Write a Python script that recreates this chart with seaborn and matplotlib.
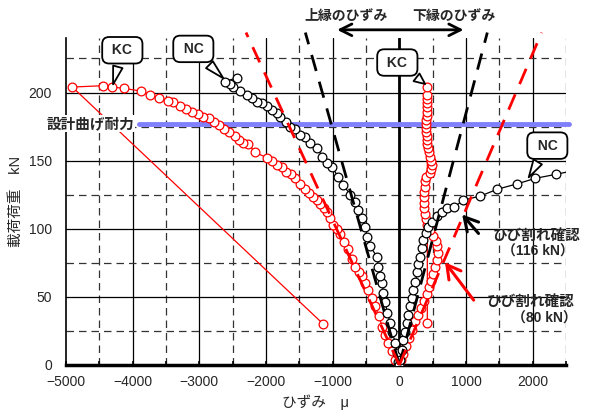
import matplotlib
matplotlib.use('Agg')
import matplotlib.pyplot as plt
import seaborn as sns

# strain (micro) and load (kN)
kc_comp_strain = [0, -60, -110, -165, -210, -255, -310, -360, -410, -465,
                  -510, -555, -610, -660, -710, -765, -825, -885, -940, -990,
                  -1035, -1080, -1130, -1185, -1240, -1290, -1350, -1410, -1485, -1560,
                  -1630, -1695, -1760, -1830, -1905, -1980, -2160, -2265, -2340, -2400,
                  -2460, -2550, -2625, -2700, -2775, -2850, -2940, -3015, -3105, -3195,
                  -3285, -3390, -3465, -3600, -3735, -3870, -4125, -4305, -4440, -4905,
                  -1140]
kc_comp_load = [0, 4, 10, 16, 22, 28, 36, 43, 49, 55,
                60, 65, 68, 72, 78, 85, 90, 96, 100, 103,
                108, 112, 115, 118, 121, 123, 126, 129, 133, 137,
                140, 142, 145, 147, 150, 152, 156, 162, 163, 165,
                168, 171, 173, 176, 178, 181, 182, 184, 186, 188,
                190, 193, 194, 196, 198, 201, 203, 204, 205, 204,
                30]

kc_tens_strain = [0, 30, 60, 105, 150, 195, 240, 285, 330, 375,
                  420, 450, 480, 510, 540, 570, 585, 570, 555, 510,
                  465, 420, 405, 390, 375, 375, 375, 375, 390, 390,
                  405, 465, 480, 495, 480, 465, 450, 435, 420, 420,
                  420, 405, 405, 405, 405, 420, 420, 420, 420, 420,
                  420, 420, 420]
kc_tens_load = [0, 4, 8, 14, 20, 26, 32, 37, 42, 47,
                52, 57, 62, 67, 72, 77, 82, 87, 91, 95,
                99, 103, 107, 111, 115, 119, 123, 127, 131, 135,
                138, 141, 144, 147, 150, 153, 156, 159, 162, 165,
                168, 171, 174, 177, 180, 183, 186, 189, 192, 195,
                198, 204, 31]

nc_comp_strain = [0, -15, -30, -60, -105, -135, -180, -210, -240, -255,
                  -285, -315, -330, -435, -480, -510, -555, -615, -660, -735,
                  -840, -915, -1005, -1080, -1155, -1230, -1335, -1410, -1485, -1560,
                  -1635, -1695, -1785, -1830, -1905, -1980, -2055, -2130, -2205, -2280,
                  -2385, -2490, -2535, -2610, -2430]
nc_comp_load = [0, 2, 9, 16, 24, 31, 38, 46, 53, 60,
                65, 72, 79, 87, 94, 101, 108, 114, 120, 125,
                132, 138, 145, 148, 153, 159, 163, 167, 169, 173,
                175, 178, 182, 185, 187, 190, 192, 193, 196, 198,
                201, 204, 206, 208, 211]

nc_tens_strain = [0, 15, 45, 60, 90, 120, 135, 165, 195, 210,
                  240, 270, 285, 315, 345, 360, 405, 435, 495, 570,
                  645, 720, 825, 960, 1215, 1470, 1770, 2040, 2355, 2550]
nc_tens_load = [0, 4, 11, 18, 24, 31, 37, 43, 49, 55,
                61, 68, 74, 79, 86, 92, 97, 101, 105, 109,
                112, 115, 116, 121, 124, 129, 133, 137, 140, 142]

# calculated (theoretical) lines
theo_load = [0, 244]
nc_upper = [0, -1410]
nc_lower = [0, 1320]
kc_upper = [0, -2300]
kc_lower = [0, 2135]

design_load = 177
design_strain = [-3900, 2550]

sns.set_theme(style='white')
plt.rcParams['font.family'] = ['Liberation Sans', 'Noto Sans CJK JP', 'DejaVu Sans']

fig = plt.figure(figsize=(5.97, 4.12), dpi=100)
ax = fig.add_axes([66 / 597, 47 / 412, 500 / 597, 327 / 412])
ax.set_xlim(-5000, 2500)
ax.set_ylim(0, 240)

# grid: solid every 1000 / 50, dashed between
for v in range(-4500, 2501, 500):
    if v % 1000 == 0:
        ax.axvline(v, color='black', lw=0.9, zorder=0.5)
    else:
        ax.axvline(v, color='#333333', lw=0.9, ls=(0, (6, 4)), zorder=0.5)
for h in range(25, 240, 25):
    if h % 50 == 0:
        ax.axhline(h, color='black', lw=0.9, zorder=0.5)
    else:
        ax.axhline(h, color='#333333', lw=0.9, ls=(0, (6, 4)), zorder=0.5)
ax.axvline(0, color='black', lw=2, zorder=0.6)

for s in ['top', 'right']:
    ax.spines[s].set_visible(False)
ax.spines['left'].set_color('black')
ax.spines['left'].set_linewidth(1.2)
ax.spines['bottom'].set_color('black')
ax.spines['bottom'].set_linewidth(2.5)

# design moment line
sns.lineplot(x=design_strain, y=[design_load, design_load], color='#8080ff', lw=3.5,
             sort=False, estimator=None, ax=ax, zorder=1, clip_on=False)

mk = dict(marker='o', markersize=6.3, markerfacecolor='white', markeredgewidth=0.9,
          sort=False, estimator=None, ax=ax, lw=0.9)
sns.lineplot(x=kc_comp_strain, y=kc_comp_load, color='red', markeredgecolor='red', zorder=3, **mk)
sns.lineplot(x=kc_tens_strain, y=kc_tens_load, color='red', markeredgecolor='red', zorder=3, **mk)
sns.lineplot(x=nc_comp_strain, y=nc_comp_load, color='black', markeredgecolor='black', zorder=4, **mk)
sns.lineplot(x=nc_tens_strain, y=nc_tens_load, color='black', markeredgecolor='black', zorder=4,
             markevery=list(range(len(nc_tens_strain) - 1)), **mk)

for xs, c in [(nc_upper, 'black'), (nc_lower, 'black'), (kc_upper, 'red'), (kc_lower, 'red')]:
    sns.lineplot(x=xs, y=theo_load, color=c, lw=2, linestyle=(0, (6, 4)), sort=False,
                 estimator=None, ax=ax, zorder=5, clip_on=False)

# ticks
ax.set_xticks(range(-5000, 2001, 1000))
ax.set_xticks(range(-4500, 2501, 1000), minor=True)
ax.set_yticks([0, 50, 100, 150, 200])
ax.tick_params(axis='x', which='both', direction='in', length=3, width=1.2, color='black',
               pad=7, labelsize=10, bottom=True)
ax.tick_params(axis='y', length=0, pad=10, labelsize=10)
ax.set_xlabel('ひずみ　μ', fontsize=10.5, labelpad=4)
ax.set_ylabel('載荷荷重　kN', fontsize=10.5, labelpad=4)

# callouts
box = dict(boxstyle='round,pad=0.45,rounding_size=0.5', fc='white', ec='black', lw=1.3)
wedge = dict(arrowstyle='wedge,tail_width=0.7,shrink_factor=0.5', fc='white', ec='black', lw=1.3)
for label, xy, xyt in [('KC', (-4305, 204), (-4155, 231)),
                       ('NC', (-2610, 209), (-3090, 232)),
                       ('KC', (420, 205), (-30, 222)),
                       ('NC', (1920, 136), (2220, 161))]:
    ax.annotate(' ' + label + ' ', xy=xy, xytext=xyt, ha='center', va='center', fontsize=10,
                fontweight='bold', bbox=box, arrowprops=wedge, zorder=6, annotation_clip=False)

ax.text(-4640, 177, '設計曲げ耐力', ha='center', va='center', fontsize=10.5, fontweight='bold',
        bbox=dict(fc='white', ec='none', pad=1), zorder=6, clip_on=False)

# upper / lower strain arrow
ax.annotate('', xy=(-975, 246), xytext=(1005, 246), annotation_clip=False,
            arrowprops=dict(arrowstyle='<->,head_length=0.7,head_width=0.35', lw=2, color='black'))
ax.text(-795, 256, '上縁のひずみ', ha='center', va='center', fontsize=10, fontweight='bold', clip_on=False)
ax.text(825, 256, '下縁のひずみ', ha='center', va='center', fontsize=10, fontweight='bold', clip_on=False)

# crack annotations
ax.annotate('', xy=(915, 112), xytext=(1215, 95), annotation_clip=False,
            arrowprops=dict(arrowstyle='->,head_length=0.8,head_width=0.45', lw=2.2, color='black'))
ax.text(2063, 95, 'ひび割れ確認', ha='center', va='center', fontsize=10.5, fontweight='bold', clip_on=False)
ax.text(2078, 83, '（116 kN）', ha='center', va='center', fontsize=10, fontweight='bold', clip_on=False)
ax.annotate('', xy=(660, 77), xytext=(1140, 46), annotation_clip=False,
            arrowprops=dict(arrowstyle='->,head_length=0.8,head_width=0.45', lw=2.2, color='red'))
ax.text(1965, 46, 'ひび割れ確認', ha='center', va='center', fontsize=10.5, fontweight='bold', clip_on=False)
ax.text(2183, 34, '（80 kN）', ha='center', va='center', fontsize=10, fontweight='bold', clip_on=False)

fig.savefig('out.png', dpi=100)
